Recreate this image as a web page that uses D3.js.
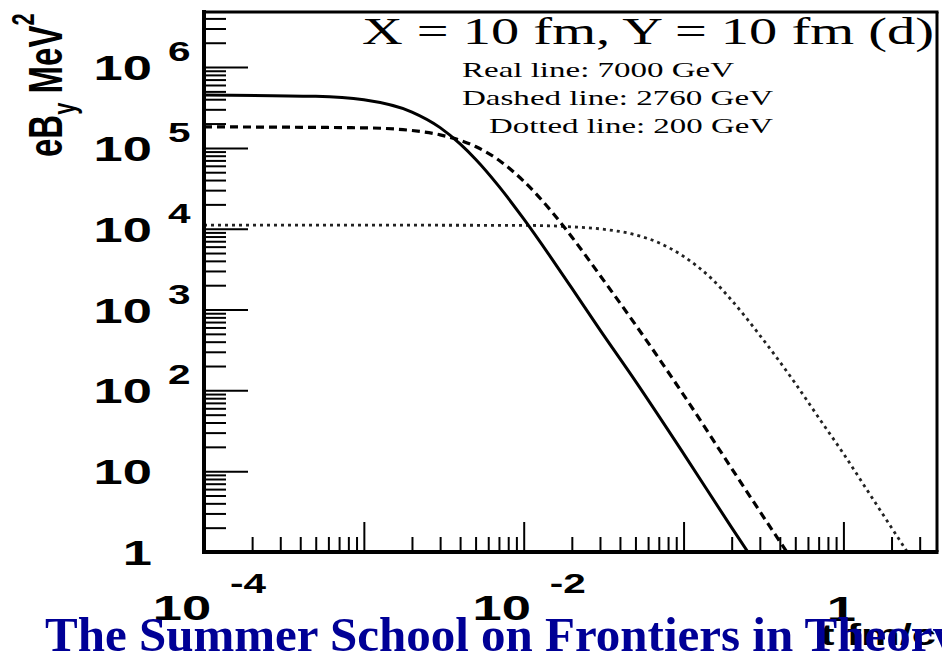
<!DOCTYPE html>
<html>
<head>
<meta charset="utf-8">
<script src="https://cdn.jsdelivr.net/npm/d3@7"></script>
<style>
  html, body { margin: 0; padding: 0; background: #fff; overflow: hidden; }
  svg { display: block; }
</style>
</head>
<body>
<svg id="chart" width="942" height="651"></svg>
<script>
// Magnetic field eB_y (MeV^2) versus time (fm/c) at X = 10 fm, Y = 10 fm
const time7000  = [1e-4, 5e-4, 1e-3, 2e-3, 3e-3, 4e-3, 5e-3, 7e-3, 1e-2, 1.5e-2, 2e-2, 3e-2, 5e-2, 0.1, 0.2, 0.3];
const field7000 = [4.5e5, 4.34e5, 3.93e5, 2.77e5, 1.78e5, 1.12e5, 7.24e4, 3.34e4, 1.32e4, 4.24e3, 1840, 560, 130, 16.5, 2.0, 0.6];

const time2760  = [1e-4, 1e-3, 2e-3, 3e-3, 5e-3, 7e-3, 1e-2, 1.5e-2, 2e-2, 3e-2, 5e-2, 0.1, 0.2, 0.4, 0.5];
const field2760 = [1.82e5, 1.77e5, 1.64e5, 1.45e5, 1.04e5, 7.03e4, 3.87e4, 1.62e4, 7.9e3, 2.65e3, 650, 88, 10.8, 1.35, 0.7];

const time200   = [1e-4, 1e-2, 2e-2, 3e-2, 5e-2, 7e-2, 0.1, 0.15, 0.2, 0.3, 0.5, 0.7, 1, 1.5, 2, 3];
const field200  = [1.11e4, 1.10e4, 1.055e4, 9.95e3, 8.4e3, 6.7e3, 4.55e3, 2.4e3, 1.3e3, 480, 122, 46, 16.5, 4.8, 2.0, 0.58];

// axis labels
const xLabelValues = [1e-4, 1e-2, 1];
const xLabelBase   = ["10", "10", "1"];
const xLabelExp    = ["-4", "-2", ""];
const yLabelValues = [1, 10, 1e2, 1e3, 1e4, 1e5, 1e6];
const yLabelBase   = ["1", "10", "10", "10", "10", "10", "10"];
const yLabelExp    = ["", "", "2", "3", "4", "5", "6"];

const legendLines = ["Real line: 7000 GeV", "Dashed line: 2760 GeV", "Dotted line: 200 GeV"];
const headline = "X = 10 fm, Y = 10 fm (d)";
const banner = "The Summer School on Frontiers in Theory";

const svg = d3.select("#chart");
const plot = { left: 204, right: 937, top: 12, bottom: 552 };

const x = d3.scaleLog().domain([1e-4, 3.85]).range([plot.left, plot.right]);
const y = d3.scaleLog().domain([1, 4.8e6]).range([plot.bottom, plot.top]);

const SX = 1.5;   // horizontal stretch of the canvas text
const sans = "'Liberation Sans', Arial, Helvetica, sans-serif";
const serif = "'Liberation Serif', 'Times New Roman', Times, serif";

// tick positions on log axes
function decadeTicks(lo, hi) {
  const major = [], minor = [];
  for (let e = Math.floor(Math.log10(lo)); e <= Math.ceil(Math.log10(hi)); e++) {
    const d = Math.pow(10, e);
    if (d >= lo && d <= hi) major.push(d);
    for (let m = 2; m <= 9; m++) {
      const v = m * d;
      if (v > lo && v < hi) minor.push(v);
    }
  }
  return { major, minor };
}
const xt = decadeTicks(1e-4, 3.85);
const yt = decadeTicks(1, 4.8e6);

// curves, clipped to the frame
svg.append("defs").append("clipPath").attr("id", "frame")
  .append("rect")
  .attr("x", plot.left).attr("y", plot.top)
  .attr("width", plot.right - plot.left).attr("height", plot.bottom - plot.top);

const line = d3.line()
  .x(d => x(d[0]))
  .y(d => y(d[1]))
  .curve(d3.curveMonotoneX);

const curves = svg.append("g").attr("clip-path", "url(#frame)").attr("fill", "none");
curves.append("path")
  .datum(d3.zip(time200, field200))
  .attr("d", line)
  .attr("stroke", "#222").attr("stroke-width", 2.8)
  .attr("stroke-dasharray", "3,4");
curves.append("path")
  .datum(d3.zip(time2760, field2760))
  .attr("d", line)
  .attr("stroke", "#000").attr("stroke-width", 3.2)
  .attr("stroke-dasharray", "8,5");
curves.append("path")
  .datum(d3.zip(time7000, field7000))
  .attr("d", line)
  .attr("stroke", "#000").attr("stroke-width", 3);

// axes: ticks point inward
function styleAxis(g) {
  g.select(".domain").remove();
  g.selectAll(".tick line").attr("stroke", "#000").attr("stroke-width", 2);
  g.selectAll(".tick text").remove();
}
svg.append("g").attr("transform", `translate(0,${plot.bottom})`)
  .call(d3.axisBottom(x).tickValues(xt.major).tickSize(-30).tickFormat(""))
  .call(styleAxis);
svg.append("g").attr("transform", `translate(0,${plot.bottom})`)
  .call(d3.axisBottom(x).tickValues(xt.minor).tickSize(-15).tickFormat(""))
  .call(styleAxis);
svg.append("g").attr("transform", `translate(${plot.left},0)`)
  .call(d3.axisLeft(y).tickValues(yt.major).tickSize(-44).tickFormat(""))
  .call(styleAxis);
svg.append("g").attr("transform", `translate(${plot.left},0)`)
  .call(d3.axisLeft(y).tickValues(yt.minor).tickSize(-22).tickFormat(""))
  .call(styleAxis);

// frame
const frame = svg.append("g").attr("stroke", "#000").attr("fill", "none");
frame.append("line").attr("x1", plot.left).attr("x2", plot.left)
  .attr("y1", plot.top - 2).attr("y2", plot.bottom + 2).attr("stroke-width", 4);
frame.append("line").attr("x1", plot.left - 2).attr("x2", plot.right + 1.5)
  .attr("y1", plot.bottom).attr("y2", plot.bottom).attr("stroke-width", 4);
frame.append("line").attr("x1", plot.left).attr("x2", plot.right + 1.5)
  .attr("y1", plot.top).attr("y2", plot.top).attr("stroke-width", 3);
frame.append("line").attr("x1", plot.right).attr("x2", plot.right)
  .attr("y1", plot.top).attr("y2", plot.bottom).attr("stroke-width", 3);

// stretched text helper
function stext(parent, px, py, str, size, opts = {}) {
  return parent.append("text")
    .attr("transform", `translate(${px},${py}) scale(${opts.sx || SX},1)`)
    .attr("text-anchor", opts.anchor || "start")
    .attr("font-family", opts.family || sans)
    .attr("font-weight", opts.weight || "bold")
    .attr("font-size", size)
    .attr("fill", opts.fill || "#000")
    .text(str);
}

// y tick labels
const ylab = svg.append("g");
yLabelValues.forEach((v, i) => {
  const ty = y(v);
  stext(ylab, 152, ty + 13, yLabelBase[i], 35, { anchor: "end" });
  if (yLabelExp[i]) stext(ylab, 168, ty - 6, yLabelExp[i], 27);
});

// x tick labels
const xlab = svg.append("g");
xLabelValues.forEach((v, i) => {
  const tx = x(v);
  if (xLabelExp[i]) {
    stext(xlab, tx - 22, 620, xLabelBase[i], 35, { anchor: "middle" });
    stext(xlab, tx + 26, 593, xLabelExp[i], 27);
  } else {
    stext(xlab, tx - 2, 621, xLabelBase[i], 35, { anchor: "middle" });
  }
});

// axis titles
const ytitle = svg.append("text")
  .attr("transform", `translate(62,157) scale(1.46,1) rotate(-90)`)
  .attr("font-family", sans).attr("font-weight", "bold").attr("font-size", 33);
ytitle.append("tspan").text("eB");
ytitle.append("tspan").attr("font-size", 22).attr("dy", 9).text("y");
ytitle.append("tspan").attr("dy", -9).text(" MeV");
ytitle.append("tspan").attr("font-size", 22).attr("dy", -19).text("2");

stext(svg, 936, 645, "t fm/c", 29, { anchor: "end" });

// headline and legend notes
stext(svg, 362, 44, headline, 39, { family: serif, weight: "normal", sx: 1.46 })
  .attr("textLength", 572 / 1.46).attr("lengthAdjust", "spacingAndGlyphs");
const legendX = [462, 462, 489];
const legendY = [77, 105, 133];
const legendW = [272, 311, 284];
legendLines.forEach((s, i) => {
  stext(svg, legendX[i], legendY[i], s, 22, { family: serif, weight: "normal", sx: 1.5 })
    .attr("textLength", legendW[i] / 1.5).attr("lengthAdjust", "spacingAndGlyphs");
});

// banner across the bottom
svg.append("text")
  .attr("x", 45).attr("y", 651)
  .attr("font-family", serif).attr("font-weight", "bold").attr("font-size", 49)
  .attr("fill", "#000096")
  .text(banner);
</script>
</body>
</html>
